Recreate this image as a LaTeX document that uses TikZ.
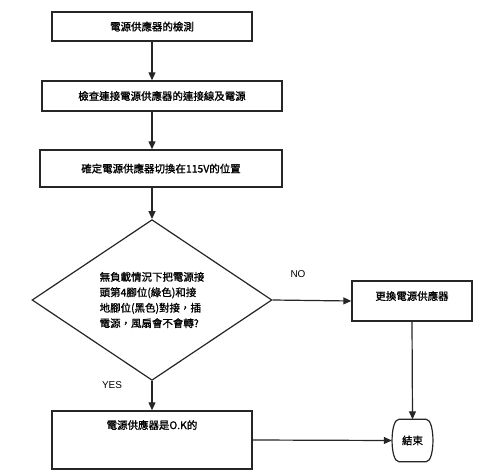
\documentclass[tikz,border=0pt]{standalone}
\usepackage{fontspec}
\setmainfont{Liberation Sans}
\newfontfamily\cjk[FakeBold=1.2]{Noto Sans CJK TC}
\usetikzlibrary{arrows.meta,shapes.geometric}
\begin{document}
\begin{tikzpicture}[x=1bp,y=-1bp,
  every node/.style={font=\cjk\fontsize{10.5}{15.5}\selectfont, inner sep=0pt},
  boxnode/.style={draw=black!85, line width=1.4bp, rectangle},
  conn/.style={draw=black!85, line width=1.2bp},
  arr/.style={conn, -{Triangle[length=8bp,width=7bp]}},
  lbl/.style={font=\fontsize{10}{12}\selectfont}]
\useasboundingbox[fill=white] (0,0) rectangle (500,472);
\node[boxnode, minimum width=200bp, minimum height=29bp] (b1) at (152,26.5) {電源供應器的檢測};
\node[boxnode, minimum width=240bp, minimum height=30bp] (b2) at (162,96) {檢查連接電源供應器的連接線及電源};
\node[boxnode, minimum width=242bp, minimum height=37bp] (b3) at (161,168.5) {確定電源供應器切換在115V的位置};
\node[draw=black!85, line width=1.2bp, diamond, minimum width=240bp, minimum height=140bp, align=left] (dia) at (152,300) {無負載情況下把電源接\\頭第4腳位(綠色)和接\\地腳位(黑色)對接，插\\電源，風扇會不會轉?};
\node[boxnode, minimum width=120bp, minimum height=40bp] (rep) at (412,301) {};
\node (reptext) at (412,296) {更換電源供應器};
\node[boxnode, minimum width=200bp, minimum height=58bp] (ok) at (152,440) {};
\node (oktext) at (152,425) {電源供應器是O.K的};
\node[minimum width=41bp, minimum height=42bp] (end) at (412.5,440.5) {結束};
\draw[draw=black!85, line width=1.2bp]
  ([xshift=7bp]end.north west) -- ([xshift=-7bp]end.north east)
  .. controls ([xshift=2bp]end.north east) and ([xshift=2bp]end.south east) .. ([xshift=-7bp]end.south east)
  -- ([xshift=7bp]end.south west)
  .. controls ([xshift=-2bp]end.south west) and ([xshift=-2bp]end.north west) .. ([xshift=7bp]end.north west);
\node[lbl] (no) at (298,274) {NO};
\node[lbl] (yes) at (112,385) {YES};
\draw[arr] (b1.south) -- (b1.south |- b2.north);
\draw[arr] (b1.south |- b2.south) -- (b1.south |- b3.north);
\draw[arr] (b1.south |- b3.south) -- (dia.north);
\draw[arr] (dia.east) -- (rep.west);
\draw[arr] (dia.south) -- (ok.north);
\draw[arr] (rep.south) -- (end.north);
\draw[arr] (ok.east) -- (end.west);
\end{tikzpicture}
\end{document}
